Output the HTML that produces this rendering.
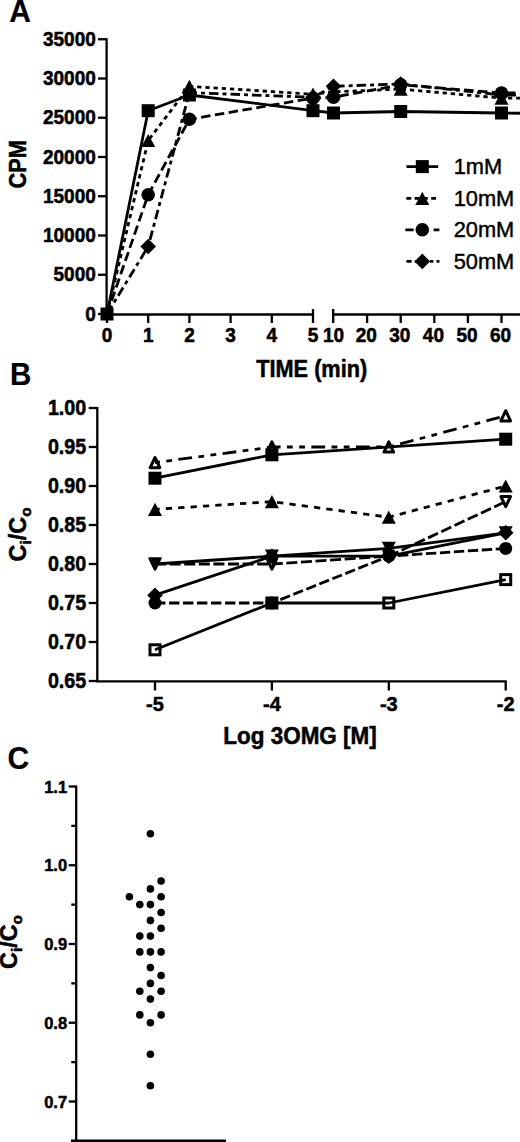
<!DOCTYPE html>
<html><head><meta charset="utf-8"><style>
html,body{margin:0;padding:0;background:#fff;}
svg{display:block;}
text{font-family:"Liberation Sans", sans-serif;fill:#000;}
</style></head><body>
<svg width="520" height="1142" viewBox="0 0 520 1142">
<rect width="520" height="1142" fill="#fff"/>
<text transform="translate(9.25,21.9) scale(1,1.07)" font-size="30" font-weight="bold" stroke="#000" stroke-width="0.2" text-anchor="start">A</text>
<line x1="106.6" y1="38.2" x2="106.6" y2="315.5" stroke="#000" stroke-width="2.3" stroke-linecap="butt"/>
<line x1="98" y1="314.0" x2="106.6" y2="314.0" stroke="#000" stroke-width="2.3" stroke-linecap="butt"/>
<text transform="translate(95.8,320.6) scale(1,1.06)" font-size="19" font-weight="bold" stroke="#000" stroke-width="0.5" text-anchor="end">0</text>
<line x1="98" y1="274.75" x2="106.6" y2="274.75" stroke="#000" stroke-width="2.3" stroke-linecap="butt"/>
<text transform="translate(95.8,281.35) scale(1,1.06)" font-size="19" font-weight="bold" stroke="#000" stroke-width="0.5" text-anchor="end">5000</text>
<line x1="98" y1="235.5" x2="106.6" y2="235.5" stroke="#000" stroke-width="2.3" stroke-linecap="butt"/>
<text transform="translate(95.8,242.1) scale(1,1.06)" font-size="19" font-weight="bold" stroke="#000" stroke-width="0.5" text-anchor="end">10000</text>
<line x1="98" y1="196.25" x2="106.6" y2="196.25" stroke="#000" stroke-width="2.3" stroke-linecap="butt"/>
<text transform="translate(95.8,202.85) scale(1,1.06)" font-size="19" font-weight="bold" stroke="#000" stroke-width="0.5" text-anchor="end">15000</text>
<line x1="98" y1="157.0" x2="106.6" y2="157.0" stroke="#000" stroke-width="2.3" stroke-linecap="butt"/>
<text transform="translate(95.8,163.6) scale(1,1.06)" font-size="19" font-weight="bold" stroke="#000" stroke-width="0.5" text-anchor="end">20000</text>
<line x1="98" y1="117.75" x2="106.6" y2="117.75" stroke="#000" stroke-width="2.3" stroke-linecap="butt"/>
<text transform="translate(95.8,124.35) scale(1,1.06)" font-size="19" font-weight="bold" stroke="#000" stroke-width="0.5" text-anchor="end">25000</text>
<line x1="98" y1="78.5" x2="106.6" y2="78.5" stroke="#000" stroke-width="2.3" stroke-linecap="butt"/>
<text transform="translate(95.8,85.1) scale(1,1.06)" font-size="19" font-weight="bold" stroke="#000" stroke-width="0.5" text-anchor="end">30000</text>
<line x1="98" y1="39.25" x2="106.6" y2="39.25" stroke="#000" stroke-width="2.3" stroke-linecap="butt"/>
<text transform="translate(95.8,45.85) scale(1,1.06)" font-size="19" font-weight="bold" stroke="#000" stroke-width="0.5" text-anchor="end">35000</text>
<line x1="105.6" y1="314.5" x2="313" y2="314.5" stroke="#000" stroke-width="2.3" stroke-linecap="butt"/>
<line x1="107.0" y1="314.5" x2="107.0" y2="323" stroke="#000" stroke-width="2.3" stroke-linecap="butt"/>
<text transform="translate(107.0,342.3) scale(1,1.05)" font-size="19" font-weight="bold" stroke="#000" stroke-width="0.5" text-anchor="middle">0</text>
<line x1="148.2" y1="314.5" x2="148.2" y2="323" stroke="#000" stroke-width="2.3" stroke-linecap="butt"/>
<text transform="translate(148.2,342.3) scale(1,1.05)" font-size="19" font-weight="bold" stroke="#000" stroke-width="0.5" text-anchor="middle">1</text>
<line x1="189.4" y1="314.5" x2="189.4" y2="323" stroke="#000" stroke-width="2.3" stroke-linecap="butt"/>
<text transform="translate(189.4,342.3) scale(1,1.05)" font-size="19" font-weight="bold" stroke="#000" stroke-width="0.5" text-anchor="middle">2</text>
<line x1="230.60000000000002" y1="314.5" x2="230.60000000000002" y2="323" stroke="#000" stroke-width="2.3" stroke-linecap="butt"/>
<text transform="translate(230.60000000000002,342.3) scale(1,1.05)" font-size="19" font-weight="bold" stroke="#000" stroke-width="0.5" text-anchor="middle">3</text>
<line x1="271.8" y1="314.5" x2="271.8" y2="323" stroke="#000" stroke-width="2.3" stroke-linecap="butt"/>
<text transform="translate(271.8,342.3) scale(1,1.05)" font-size="19" font-weight="bold" stroke="#000" stroke-width="0.5" text-anchor="middle">4</text>
<line x1="313.0" y1="309" x2="313.0" y2="323" stroke="#000" stroke-width="2.3" stroke-linecap="butt"/>
<text transform="translate(313.0,342.3) scale(1,1.05)" font-size="19" font-weight="bold" stroke="#000" stroke-width="0.5" text-anchor="middle">5</text>
<line x1="333.2" y1="314.5" x2="522" y2="314.5" stroke="#000" stroke-width="2.3" stroke-linecap="butt"/>
<line x1="333.2" y1="309" x2="333.2" y2="323" stroke="#000" stroke-width="2.3" stroke-linecap="butt"/>
<line x1="367.1" y1="314.5" x2="367.1" y2="323" stroke="#000" stroke-width="2.3" stroke-linecap="butt"/>
<line x1="400.7" y1="314.5" x2="400.7" y2="323" stroke="#000" stroke-width="2.3" stroke-linecap="butt"/>
<line x1="434.3" y1="314.5" x2="434.3" y2="323" stroke="#000" stroke-width="2.3" stroke-linecap="butt"/>
<line x1="467.9" y1="314.5" x2="467.9" y2="323" stroke="#000" stroke-width="2.3" stroke-linecap="butt"/>
<line x1="501.5" y1="314.5" x2="501.5" y2="323" stroke="#000" stroke-width="2.3" stroke-linecap="butt"/>
<text transform="translate(333.5,342.3) scale(1,1.05)" font-size="19" font-weight="bold" stroke="#000" stroke-width="0.5" text-anchor="middle">10</text>
<text transform="translate(366.20000000000005,342.3) scale(1,1.05)" font-size="19" font-weight="bold" stroke="#000" stroke-width="0.5" text-anchor="middle">20</text>
<text transform="translate(399.8,342.3) scale(1,1.05)" font-size="19" font-weight="bold" stroke="#000" stroke-width="0.5" text-anchor="middle">30</text>
<text transform="translate(433.40000000000003,342.3) scale(1,1.05)" font-size="19" font-weight="bold" stroke="#000" stroke-width="0.5" text-anchor="middle">40</text>
<text transform="translate(467.0,342.3) scale(1,1.05)" font-size="19" font-weight="bold" stroke="#000" stroke-width="0.5" text-anchor="middle">50</text>
<text transform="translate(500.6,342.3) scale(1,1.05)" font-size="19" font-weight="bold" stroke="#000" stroke-width="0.5" text-anchor="middle">60</text>
<text transform="translate(311.7,377.1) scale(1,1.08)" font-size="22" font-weight="bold" stroke="#000" stroke-width="0.5" text-anchor="middle" textLength="111" lengthAdjust="spacingAndGlyphs">TIME (min)</text>
<text transform="translate(25.8,164.3) rotate(-90) scale(1,1.08)" font-size="22.2" font-weight="bold" stroke="#000" stroke-width="0.5" text-anchor="middle" textLength="48.5" lengthAdjust="spacingAndGlyphs">CPM</text>
<polyline points="107.0,314.0 148.2,110.7 189.4,95.0 313.0,110.7 333.5,113.0 400.7,111.5 501.5,113.0 522.0,113.3" fill="none" stroke="#000" stroke-width="2.8" stroke-linejoin="round"/>
<polyline points="107.0,314.0 148.2,140.5 189.4,86.3 313.0,94.2 333.5,91.8 400.7,89.1 501.5,98.1 522.0,98.1" fill="none" stroke="#000" stroke-width="2.8" stroke-linejoin="round" stroke-dasharray="4.3 3.9" stroke-dashoffset="0"/>
<polyline points="107.0,314.0 148.2,194.7 189.4,119.3 313.0,98.1 333.5,97.3 400.7,84.8 501.5,93.0 522.0,93.0" fill="none" stroke="#000" stroke-width="2.8" stroke-linejoin="round" stroke-dasharray="9.5 4.5" stroke-dashoffset="0"/>
<polyline points="107.0,314.0 148.2,246.5 189.4,92.6 313.0,97.3 333.5,86.3 400.7,84.0 501.5,95.0 522.0,95.0" fill="none" stroke="#000" stroke-width="2.8" stroke-linejoin="round" stroke-dasharray="9.5 4 4 4" stroke-dashoffset="0"/>
<rect x="100.5" y="307.5" width="13.0" height="13.0" fill="#000" stroke="#000" stroke-width="0"/>
<rect x="141.7" y="104.2" width="13.0" height="13.0" fill="#000" stroke="#000" stroke-width="0"/>
<rect x="182.9" y="88.5" width="13.0" height="13.0" fill="#000" stroke="#000" stroke-width="0"/>
<rect x="306.5" y="104.2" width="13.0" height="13.0" fill="#000" stroke="#000" stroke-width="0"/>
<rect x="327.0" y="106.5" width="13.0" height="13.0" fill="#000" stroke="#000" stroke-width="0"/>
<rect x="394.2" y="105.0" width="13.0" height="13.0" fill="#000" stroke="#000" stroke-width="0"/>
<rect x="495.0" y="106.5" width="13.0" height="13.0" fill="#000" stroke="#000" stroke-width="0"/>
<polygon points="148.2,133.9 155.2,147.1 141.2,147.1" fill="#000" stroke="#000" stroke-width="0" stroke-linejoin="round"/>
<polygon points="189.4,79.8 196.4,92.9 182.4,92.9" fill="#000" stroke="#000" stroke-width="0" stroke-linejoin="round"/>
<polygon points="313.0,87.6 320.0,100.8 306.0,100.8" fill="#000" stroke="#000" stroke-width="0" stroke-linejoin="round"/>
<polygon points="333.5,85.2 340.5,98.4 326.5,98.4" fill="#000" stroke="#000" stroke-width="0" stroke-linejoin="round"/>
<polygon points="400.7,82.5 407.7,95.7 393.7,95.7" fill="#000" stroke="#000" stroke-width="0" stroke-linejoin="round"/>
<polygon points="501.5,91.5 508.5,104.7 494.5,104.7" fill="#000" stroke="#000" stroke-width="0" stroke-linejoin="round"/>
<circle cx="148.2" cy="194.7" r="6.8" fill="#000"/>
<circle cx="189.4" cy="119.3" r="6.8" fill="#000"/>
<circle cx="313.0" cy="98.1" r="6.8" fill="#000"/>
<circle cx="333.5" cy="97.3" r="6.8" fill="#000"/>
<circle cx="400.7" cy="84.8" r="6.8" fill="#000"/>
<circle cx="501.5" cy="93.0" r="6.8" fill="#000"/>
<polygon points="148.2,238.7 156.0,246.5 148.2,254.3 140.4,246.5" fill="#000"/>
<polygon points="189.4,84.8 197.2,92.6 189.4,100.4 181.6,92.6" fill="#000"/>
<polygon points="313.0,89.5 320.8,97.3 313.0,105.1 305.2,97.3" fill="#000"/>
<polygon points="333.5,78.5 341.3,86.3 333.5,94.1 325.7,86.3" fill="#000"/>
<polygon points="400.7,76.2 408.5,84.0 400.7,91.8 392.9,84.0" fill="#000"/>
<polygon points="501.5,87.2 509.3,95.0 501.5,102.8 493.7,95.0" fill="#000"/>
<line x1="406.5" y1="166.6" x2="438.2" y2="166.6" stroke="#000" stroke-width="2.8" stroke-linecap="butt"/>
<rect x="415.8" y="160.1" width="13.0" height="13.0" fill="#000" stroke="#000" stroke-width="0"/>
<text transform="translate(453.665,174.2)" font-size="21.8" stroke="#000" stroke-width="0.45" text-anchor="start">1mM</text>
<line x1="406.3" y1="198.3" x2="437" y2="198.3" stroke="#000" stroke-width="2.8" stroke-linecap="butt" stroke-dasharray="4.9 3.4"/>
<polygon points="422.3,191.7 429.3,204.9 415.3,204.9" fill="#000" stroke="#000" stroke-width="0" stroke-linejoin="round"/>
<text transform="translate(453.665,205.9)" font-size="21.8" stroke="#000" stroke-width="0.45" text-anchor="start">10mM</text>
<line x1="405.4" y1="229.8" x2="439.4" y2="229.8" stroke="#000" stroke-width="2.8" stroke-linecap="butt" stroke-dasharray="8.2 5.9"/>
<circle cx="422.3" cy="229.8" r="6.8" fill="#000"/>
<text transform="translate(453.665,237.4)" font-size="21.8" stroke="#000" stroke-width="0.45" text-anchor="start">20mM</text>
<line x1="406.4" y1="261.4" x2="439.4" y2="261.4" stroke="#000" stroke-width="2.8" stroke-linecap="butt" stroke-dasharray="5.2 3.3 3.3 3.3"/>
<polygon points="422.3,253.6 430.1,261.4 422.3,269.2 414.5,261.4" fill="#000"/>
<text transform="translate(453.665,269.0)" font-size="21.8" stroke="#000" stroke-width="0.45" text-anchor="start">50mM</text>
<text transform="translate(9.95,384.5) scale(1,1.08)" font-size="29.5" font-weight="bold" stroke="#000" stroke-width="0.2" text-anchor="start">B</text>
<line x1="97.3" y1="407" x2="97.3" y2="682.3" stroke="#000" stroke-width="2.3" stroke-linecap="butt"/>
<line x1="88.7" y1="408.0" x2="97.3" y2="408.0" stroke="#000" stroke-width="2.3" stroke-linecap="butt"/>
<text transform="translate(86.2,414.9) scale(1,1.1)" font-size="19.7" font-weight="bold" stroke="#000" stroke-width="0.5" text-anchor="end">1.00</text>
<line x1="88.7" y1="447.00000000000006" x2="97.3" y2="447.00000000000006" stroke="#000" stroke-width="2.3" stroke-linecap="butt"/>
<text transform="translate(86.2,453.90000000000003) scale(1,1.1)" font-size="19.7" font-weight="bold" stroke="#000" stroke-width="0.5" text-anchor="end">0.95</text>
<line x1="88.7" y1="486.0" x2="97.3" y2="486.0" stroke="#000" stroke-width="2.3" stroke-linecap="butt"/>
<text transform="translate(86.2,492.9) scale(1,1.1)" font-size="19.7" font-weight="bold" stroke="#000" stroke-width="0.5" text-anchor="end">0.90</text>
<line x1="88.7" y1="525.0" x2="97.3" y2="525.0" stroke="#000" stroke-width="2.3" stroke-linecap="butt"/>
<text transform="translate(86.2,531.9) scale(1,1.1)" font-size="19.7" font-weight="bold" stroke="#000" stroke-width="0.5" text-anchor="end">0.85</text>
<line x1="88.7" y1="564.0" x2="97.3" y2="564.0" stroke="#000" stroke-width="2.3" stroke-linecap="butt"/>
<text transform="translate(86.2,570.9) scale(1,1.1)" font-size="19.7" font-weight="bold" stroke="#000" stroke-width="0.5" text-anchor="end">0.80</text>
<line x1="88.7" y1="603.0" x2="97.3" y2="603.0" stroke="#000" stroke-width="2.3" stroke-linecap="butt"/>
<text transform="translate(86.2,609.9) scale(1,1.1)" font-size="19.7" font-weight="bold" stroke="#000" stroke-width="0.5" text-anchor="end">0.75</text>
<line x1="88.7" y1="642.0" x2="97.3" y2="642.0" stroke="#000" stroke-width="2.3" stroke-linecap="butt"/>
<text transform="translate(86.2,648.9) scale(1,1.1)" font-size="19.7" font-weight="bold" stroke="#000" stroke-width="0.5" text-anchor="end">0.70</text>
<line x1="88.7" y1="681.0" x2="97.3" y2="681.0" stroke="#000" stroke-width="2.3" stroke-linecap="butt"/>
<text transform="translate(86.2,687.9) scale(1,1.1)" font-size="19.7" font-weight="bold" stroke="#000" stroke-width="0.5" text-anchor="end">0.65</text>
<line x1="96.3" y1="681.3" x2="506.80000000000007" y2="681.3" stroke="#000" stroke-width="2.3" stroke-linecap="butt"/>
<line x1="155.0" y1="681.3" x2="155.0" y2="690.5" stroke="#000" stroke-width="2.3" stroke-linecap="butt"/>
<text transform="translate(155.0,710.9) scale(1,1.05)" font-size="20" font-weight="bold" stroke="#000" stroke-width="0.5" text-anchor="middle">-5</text>
<line x1="271.9" y1="681.3" x2="271.9" y2="690.5" stroke="#000" stroke-width="2.3" stroke-linecap="butt"/>
<text transform="translate(271.9,710.9) scale(1,1.05)" font-size="20" font-weight="bold" stroke="#000" stroke-width="0.5" text-anchor="middle">-4</text>
<line x1="388.8" y1="681.3" x2="388.8" y2="690.5" stroke="#000" stroke-width="2.3" stroke-linecap="butt"/>
<text transform="translate(388.8,710.9) scale(1,1.05)" font-size="20" font-weight="bold" stroke="#000" stroke-width="0.5" text-anchor="middle">-3</text>
<line x1="505.70000000000005" y1="681.3" x2="505.70000000000005" y2="690.5" stroke="#000" stroke-width="2.3" stroke-linecap="butt"/>
<text transform="translate(505.70000000000005,710.9) scale(1,1.05)" font-size="20" font-weight="bold" stroke="#000" stroke-width="0.5" text-anchor="middle">-2</text>
<text transform="translate(300,744.2) scale(1,1.075)" font-size="22.5" font-weight="bold" stroke="#000" stroke-width="0.5" text-anchor="middle" textLength="153.5" lengthAdjust="spacingAndGlyphs">Log 3OMG [M]</text>
<g transform="translate(25.7,534.4) rotate(-90)"><text x="0" y="0" font-size="23.5" font-weight="bold" stroke="#000" stroke-width="0.5" text-anchor="middle" textLength="54" lengthAdjust="spacingAndGlyphs">C<tspan font-size="15.5" dy="5">i</tspan><tspan dy="-5">/C</tspan><tspan font-size="15.5" dy="5">o</tspan></text></g>
<polyline points="155.0,462.6 271.9,447.0 388.8,447.0 505.7,415.8" fill="none" stroke="#000" stroke-width="2.8" stroke-linejoin="round" stroke-dasharray="13.8 6.4 5.8 6.4 5.8 6.4" stroke-dashoffset="21"/>
<polyline points="155.0,478.2 271.9,454.8 505.7,439.2" fill="none" stroke="#000" stroke-width="2.8" stroke-linejoin="round"/>
<polyline points="155.0,509.4 271.9,501.6 388.8,517.2 505.7,486.0" fill="none" stroke="#000" stroke-width="2.8" stroke-linejoin="round" stroke-dasharray="6.3 6.1" stroke-dashoffset="1.6"/>
<polyline points="155.0,564.0 271.9,564.0 388.8,556.2 505.7,501.6" fill="none" stroke="#000" stroke-width="2.8" stroke-linejoin="round" stroke-dasharray="11 3.6" stroke-dashoffset="0"/>
<polyline points="155.0,564.0 271.9,556.2 388.8,548.4 505.7,532.8" fill="none" stroke="#000" stroke-width="2.8" stroke-linejoin="round"/>
<polyline points="155.0,595.2 271.9,556.2 388.8,556.2 505.7,532.8" fill="none" stroke="#000" stroke-width="2.8" stroke-linejoin="round"/>
<polyline points="155.0,603.0 271.9,603.0 388.8,556.2 505.7,548.4" fill="none" stroke="#000" stroke-width="2.8" stroke-linejoin="round" stroke-dasharray="10.4 3.6" stroke-dashoffset="0"/>
<polyline points="155.0,649.8 271.9,603.0 388.8,603.0 505.7,579.6" fill="none" stroke="#000" stroke-width="2.8" stroke-linejoin="round"/>
<polygon points="155.0,457.5 159.8,467.7 150.2,467.7" fill="none" stroke="#000" stroke-width="3" stroke-linejoin="round"/>
<polygon points="271.9,441.9 276.7,452.1 267.1,452.1" fill="none" stroke="#000" stroke-width="3" stroke-linejoin="round"/>
<polygon points="388.8,441.9 393.6,452.1 384.0,452.1" fill="none" stroke="#000" stroke-width="3" stroke-linejoin="round"/>
<polygon points="505.7,410.7 510.5,420.9 500.9,420.9" fill="none" stroke="#000" stroke-width="3" stroke-linejoin="round"/>
<rect x="148.5" y="471.7" width="13.0" height="13.0" fill="#000" stroke="#000" stroke-width="0"/>
<rect x="265.4" y="448.3" width="13.0" height="13.0" fill="#000" stroke="#000" stroke-width="0"/>
<rect x="499.2" y="432.7" width="13.0" height="13.0" fill="#000" stroke="#000" stroke-width="0"/>
<polygon points="155.0,502.8 162.0,516.0 148.0,516.0" fill="#000" stroke="#000" stroke-width="0" stroke-linejoin="round"/>
<polygon points="271.9,495.0 278.9,508.2 264.9,508.2" fill="#000" stroke="#000" stroke-width="0" stroke-linejoin="round"/>
<polygon points="388.8,510.6 395.8,523.8 381.8,523.8" fill="#000" stroke="#000" stroke-width="0" stroke-linejoin="round"/>
<polygon points="505.7,479.4 512.7,492.6 498.7,492.6" fill="#000" stroke="#000" stroke-width="0" stroke-linejoin="round"/>
<polygon points="155.0,569.1 159.8,558.9 150.2,558.9" fill="none" stroke="#000" stroke-width="3" stroke-linejoin="round"/>
<polygon points="271.9,569.1 276.7,558.9 267.1,558.9" fill="none" stroke="#000" stroke-width="3" stroke-linejoin="round"/>
<polygon points="388.8,561.3 393.6,551.1 384.0,551.1" fill="none" stroke="#000" stroke-width="3" stroke-linejoin="round"/>
<polygon points="505.7,506.7 510.5,496.5 500.9,496.5" fill="none" stroke="#000" stroke-width="3" stroke-linejoin="round"/>
<polygon points="155.0,570.6 162.0,557.4 148.0,557.4" fill="#000" stroke="#000" stroke-width="0" stroke-linejoin="round"/>
<polygon points="271.9,562.8 278.9,549.6 264.9,549.6" fill="#000" stroke="#000" stroke-width="0" stroke-linejoin="round"/>
<polygon points="388.8,555.0 395.8,541.8 381.8,541.8" fill="#000" stroke="#000" stroke-width="0" stroke-linejoin="round"/>
<polygon points="505.7,539.4 512.7,526.2 498.7,526.2" fill="#000" stroke="#000" stroke-width="0" stroke-linejoin="round"/>
<polygon points="155.0,587.4 162.8,595.2 155.0,603.0 147.2,595.2" fill="#000"/>
<polygon points="271.9,548.4 279.7,556.2 271.9,564.0 264.1,556.2" fill="#000"/>
<polygon points="388.8,548.4 396.6,556.2 388.8,564.0 381.0,556.2" fill="#000"/>
<polygon points="505.7,525.0 513.5,532.8 505.7,540.6 497.9,532.8" fill="#000"/>
<circle cx="155.0" cy="603.0" r="6.5" fill="#000"/>
<circle cx="271.9" cy="603.0" r="6.5" fill="#000"/>
<circle cx="388.8" cy="556.2" r="6.5" fill="#000"/>
<circle cx="505.7" cy="548.4" r="6.5" fill="#000"/>
<rect x="150.0" y="644.8" width="10.0" height="10.0" fill="none" stroke="#000" stroke-width="3"/>
<rect x="266.9" y="598.0" width="10.0" height="10.0" fill="none" stroke="#000" stroke-width="3"/>
<rect x="383.8" y="598.0" width="10.0" height="10.0" fill="none" stroke="#000" stroke-width="3"/>
<rect x="500.7" y="574.6" width="10.0" height="10.0" fill="none" stroke="#000" stroke-width="3"/>
<text transform="translate(7.6,769.3) scale(1,1.065)" font-size="30" font-weight="bold" stroke="#000" stroke-width="0.2" text-anchor="start">C</text>
<line x1="76.2" y1="785.4" x2="76.2" y2="1142" stroke="#000" stroke-width="2.3" stroke-linecap="butt"/>
<line x1="68.7" y1="786.5" x2="76.2" y2="786.5" stroke="#000" stroke-width="2.3" stroke-linecap="butt"/>
<text transform="translate(67.1,792.5) scale(1,1.03)" font-size="16.5" font-weight="bold" stroke="#000" stroke-width="0.5" text-anchor="end">1.1</text>
<line x1="71.3" y1="825.875" x2="76.2" y2="825.875" stroke="#000" stroke-width="2.3" stroke-linecap="butt"/>
<line x1="68.7" y1="865.2500000000001" x2="76.2" y2="865.2500000000001" stroke="#000" stroke-width="2.3" stroke-linecap="butt"/>
<text transform="translate(67.1,871.2500000000001) scale(1,1.03)" font-size="16.5" font-weight="bold" stroke="#000" stroke-width="0.5" text-anchor="end">1.0</text>
<line x1="71.3" y1="904.625" x2="76.2" y2="904.625" stroke="#000" stroke-width="2.3" stroke-linecap="butt"/>
<line x1="68.7" y1="944.0" x2="76.2" y2="944.0" stroke="#000" stroke-width="2.3" stroke-linecap="butt"/>
<text transform="translate(67.1,950.0) scale(1,1.03)" font-size="16.5" font-weight="bold" stroke="#000" stroke-width="0.5" text-anchor="end">0.9</text>
<line x1="71.3" y1="983.375" x2="76.2" y2="983.375" stroke="#000" stroke-width="2.3" stroke-linecap="butt"/>
<line x1="68.7" y1="1022.75" x2="76.2" y2="1022.75" stroke="#000" stroke-width="2.3" stroke-linecap="butt"/>
<text transform="translate(67.1,1028.75) scale(1,1.03)" font-size="16.5" font-weight="bold" stroke="#000" stroke-width="0.5" text-anchor="end">0.8</text>
<line x1="71.3" y1="1062.125" x2="76.2" y2="1062.125" stroke="#000" stroke-width="2.3" stroke-linecap="butt"/>
<line x1="68.7" y1="1101.5" x2="76.2" y2="1101.5" stroke="#000" stroke-width="2.3" stroke-linecap="butt"/>
<text transform="translate(67.1,1107.5) scale(1,1.03)" font-size="16.5" font-weight="bold" stroke="#000" stroke-width="0.5" text-anchor="end">0.7</text>
<line x1="71" y1="1140.8" x2="226" y2="1140.8" stroke="#000" stroke-width="2.4" stroke-linecap="butt"/>
<g transform="translate(17.3,942) rotate(-90)"><text x="0" y="0" font-size="23.5" font-weight="bold" stroke="#000" stroke-width="0.5" text-anchor="middle" textLength="54" lengthAdjust="spacingAndGlyphs">C<tspan font-size="15.5" dy="5">i</tspan><tspan dy="-5">/C</tspan><tspan font-size="15.5" dy="5">o</tspan></text></g>
<circle cx="150.4" cy="833.8" r="3.8" fill="#000"/>
<circle cx="161.1" cy="881.0" r="3.8" fill="#000"/>
<circle cx="150.4" cy="888.9" r="3.8" fill="#000"/>
<circle cx="129.4" cy="896.8" r="3.8" fill="#000"/>
<circle cx="161.1" cy="896.8" r="3.8" fill="#000"/>
<circle cx="139.8" cy="904.6" r="3.8" fill="#000"/>
<circle cx="150.4" cy="904.6" r="3.8" fill="#000"/>
<circle cx="161.1" cy="912.5" r="3.8" fill="#000"/>
<circle cx="150.4" cy="920.4" r="3.8" fill="#000"/>
<circle cx="161.1" cy="928.2" r="3.8" fill="#000"/>
<circle cx="139.8" cy="936.1" r="3.8" fill="#000"/>
<circle cx="150.4" cy="936.1" r="3.8" fill="#000"/>
<circle cx="139.8" cy="951.9" r="3.8" fill="#000"/>
<circle cx="150.4" cy="951.9" r="3.8" fill="#000"/>
<circle cx="161.1" cy="951.9" r="3.8" fill="#000"/>
<circle cx="150.4" cy="967.6" r="3.8" fill="#000"/>
<circle cx="161.1" cy="975.5" r="3.8" fill="#000"/>
<circle cx="150.4" cy="983.4" r="3.8" fill="#000"/>
<circle cx="139.8" cy="991.3" r="3.8" fill="#000"/>
<circle cx="161.1" cy="991.3" r="3.8" fill="#000"/>
<circle cx="150.4" cy="999.1" r="3.8" fill="#000"/>
<circle cx="139.8" cy="1014.9" r="3.8" fill="#000"/>
<circle cx="161.1" cy="1014.9" r="3.8" fill="#000"/>
<circle cx="150.4" cy="1022.8" r="3.8" fill="#000"/>
<circle cx="150.4" cy="1054.2" r="3.8" fill="#000"/>
<circle cx="150.4" cy="1085.8" r="3.8" fill="#000"/>
</svg>
</body></html>
